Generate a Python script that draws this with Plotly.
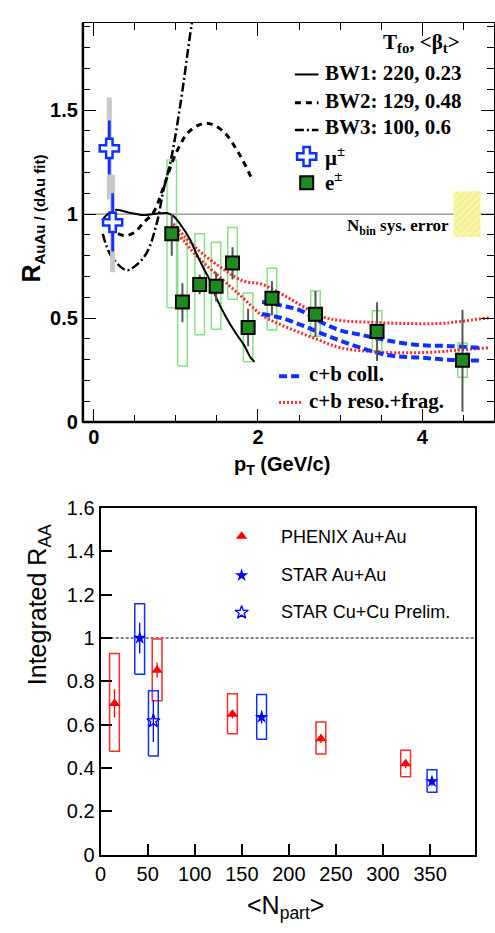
import plotly.graph_objects as go

W, H = 495, 933

# ---------------- Top panel: R_AuAu/(dAu fit) vs pT ----------------
mu_pt = [0.19, 0.23]
mu_r = [1.316, 0.960]
mu_stat_up = [1.45, 1.10]
mu_stat_dn = [1.19, 0.82]
mu_sys_up = [1.56, 1.19]
mu_sys_dn = [1.07, 0.72]

e_pt = [0.95, 1.08, 1.29, 1.49, 1.69, 1.88, 2.17, 2.70, 3.45, 4.49]
e_r = [0.905, 0.577, 0.662, 0.653, 0.765, 0.455, 0.595, 0.518, 0.435, 0.297]
e_stat_up = [1.00, 0.667, 0.71, 0.72, 0.84, 0.545, 0.677, 0.63, 0.576, 0.54]
e_stat_dn = [0.80, 0.48, 0.615, 0.58, 0.685, 0.365, 0.513, 0.41, 0.294, 0.05]
e_sys_up = [1.26, 0.88, 0.905, 0.864, 0.935, 0.62, 0.74, 0.63, 0.535, 0.38]
e_sys_dn = [0.55, 0.27, 0.42, 0.446, 0.59, 0.29, 0.443, 0.413, 0.343, 0.216]
e_box_half = 0.058

bw1_pt = [0.12, 0.25, 0.45, 0.61, 0.73, 0.89, 0.97, 1.05, 1.17, 1.25, 1.35, 1.41, 1.49, 1.61, 1.73, 1.83, 1.91, 1.96]
bw1_r = [0.98, 1.02, 1.005, 0.995, 1.0, 1.005, 0.99, 0.953, 0.88, 0.81, 0.73, 0.685, 0.60, 0.505, 0.427, 0.37, 0.31, 0.29]

bw2_pt = [0.11, 0.20, 0.37, 0.49, 0.61, 0.73, 0.85, 1.01, 1.17, 1.37, 1.57, 1.77, 1.93]
bw2_r = [0.98, 0.93, 0.897, 0.91, 0.96, 1.01, 1.13, 1.30, 1.40, 1.437, 1.40, 1.29, 1.165]

bw3_pt = [0.11, 0.21, 0.40, 0.52, 0.65, 0.77, 0.85, 0.94, 1.06, 1.19, 1.22]
bw3_r = [0.905, 0.80, 0.73, 0.755, 0.817, 0.96, 1.117, 1.26, 1.54, 1.906, 1.97]

coll_pt = [2.05, 2.29, 2.53, 2.77, 3.01, 3.25, 3.61, 3.97, 4.30, 4.69]
coll_hi = [0.577, 0.56, 0.535, 0.48, 0.44, 0.42, 0.39, 0.37, 0.366, 0.357]
coll_lo = [0.52, 0.50, 0.466, 0.427, 0.39, 0.357, 0.32, 0.31, 0.30, 0.296]

frag_pt = [0.97, 1.25, 1.54, 1.81, 2.05, 2.29, 2.53, 2.77, 3.01, 3.41, 3.81, 4.21, 4.45, 4.81]
frag_hi = [0.953, 0.835, 0.746, 0.68, 0.662, 0.615, 0.56, 0.508, 0.488, 0.479, 0.474, 0.474, 0.483, 0.502]
frag_lo = [0.935, 0.80, 0.695, 0.60, 0.513, 0.466, 0.427, 0.39, 0.357, 0.338, 0.333, 0.338, 0.347, 0.357]

nbin_pt = [4.38, 4.71]
nbin_err = 0.11

# ---------------- Bottom panel: integrated R_AA vs Npart ----------------
phx_n = [14.7, 60, 140, 234, 324]
phx_r = [0.698, 0.851, 0.648, 0.535, 0.419]
phx_stat = [0.065, 0.035, 0.02, 0.02, 0.02]
phx_sys_up = [0.928, 0.995, 0.743, 0.612, 0.482]
phx_sys_dn = [0.477, 0.71, 0.558, 0.464, 0.36]

sau_n = [41.5, 171, 352]
sau_r = [1.0, 0.635, 0.338]
sau_stat = [0.07, 0.03, 0.02]
sau_sys_up = [1.158, 0.739, 0.392]
sau_sys_dn = [0.833, 0.532, 0.288]

scu_n = [56]
scu_r = [0.617]
scu_stat = [0.097]
scu_sys_up = [0.757]
scu_sys_dn = [0.455]

npart_box_half = 5.2

top_ytick_vals = [0, 0.5, 1, 1.5]
top_xtick_vals = [0, 2, 4]
bot_ytick_vals = [0, 0.2, 0.4, 0.6, 0.8, 1.0, 1.2, 1.4, 1.6]
bot_xtick_vals = [0, 50, 100, 150, 200, 250, 300, 350]


def box_path(xc, half, lo, hi):
    xs, ys = [], []
    for x, l, h in zip(xc, lo, hi):
        xs += [x - half, x + half, x + half, x - half, x - half, None]
        ys += [l, l, h, h, l, None]
    return xs, ys


def vbar_path(xc, lo, hi):
    xs, ys = [], []
    for x, l, h in zip(xc, lo, hi):
        xs += [x, x, None]
        ys += [l, h, None]
    return xs, ys


SANS = "Liberation Sans, Arial, sans-serif"
SERIF = "Liberation Serif, Times New Roman, serif"
RED_C = "#ff2a2a"
BLUE_C = "#1030ff"
BW2_DASH = "6px,5px"
BW3_DASH = "9px,3px,2px,3px"
COLL_DASH = "8px,4px"
FRAG_DASH = "2px,2px"

fig = go.Figure()

# ---- top panel traces ----
fig.add_trace(go.Scatter(
    x=[nbin_pt[0], nbin_pt[1], nbin_pt[1], nbin_pt[0], nbin_pt[0]],
    y=[1 - nbin_err, 1 - nbin_err, 1 + nbin_err, 1 + nbin_err, 1 - nbin_err],
    mode="lines", line=dict(width=0), fill="toself", fillcolor="#f8f6a0",
    fillpattern=dict(shape="/", fgcolor="#ece868", bgcolor="#f8f6a8", size=5, solidity=0.3),
    xaxis="x", yaxis="y", hoverinfo="skip"))

bx, by = box_path(e_pt, e_box_half, e_sys_dn, e_sys_up)
fig.add_trace(go.Scatter(x=bx, y=by, mode="lines", line=dict(color="#86e086", width=1.5),
                         xaxis="x", yaxis="y", hoverinfo="skip"))

for hi_lo in (frag_hi, frag_lo):
    fig.add_trace(go.Scatter(x=frag_pt, y=hi_lo, mode="lines",
                             line=dict(color=RED_C, width=3, dash=FRAG_DASH, shape="spline"),
                             xaxis="x", yaxis="y"))
for hi_lo in (coll_hi, coll_lo):
    fig.add_trace(go.Scatter(x=coll_pt, y=hi_lo, mode="lines",
                             line=dict(color=BLUE_C, width=4, dash=COLL_DASH, shape="spline"),
                             xaxis="x", yaxis="y"))
fig.add_trace(go.Scatter(x=bw1_pt, y=bw1_r, mode="lines",
                         line=dict(color="black", width=2, shape="spline"), xaxis="x", yaxis="y"))
fig.add_trace(go.Scatter(x=bw2_pt, y=bw2_r, mode="lines",
                         line=dict(color="black", width=3, dash=BW2_DASH, shape="spline"), xaxis="x", yaxis="y"))
fig.add_trace(go.Scatter(x=bw3_pt, y=bw3_r, mode="lines",
                         line=dict(color="black", width=2.5, dash=BW3_DASH, shape="spline"), xaxis="x", yaxis="y"))

sx, sy = vbar_path(mu_pt, mu_sys_dn, mu_sys_up)
fig.add_trace(go.Scatter(x=sx, y=sy, mode="lines", line=dict(color="#c8c8c8", width=5),
                         xaxis="x", yaxis="y"))
sx, sy = vbar_path(mu_pt, mu_stat_dn, mu_stat_up)
fig.add_trace(go.Scatter(x=sx, y=sy, mode="lines", line=dict(color=BLUE_C, width=2.7),
                         xaxis="x", yaxis="y"))
fig.add_trace(go.Scatter(x=mu_pt, y=mu_r, mode="markers",
                         marker=dict(symbol="cross", size=16, color="white",
                                     line=dict(color=BLUE_C, width=2.5)),
                         xaxis="x", yaxis="y"))

sx, sy = vbar_path(e_pt, e_stat_dn, e_stat_up)
fig.add_trace(go.Scatter(x=sx, y=sy, mode="lines", line=dict(color="#555555", width=2),
                         xaxis="x", yaxis="y"))
fig.add_trace(go.Scatter(x=e_pt, y=e_r, mode="markers",
                         marker=dict(symbol="square", size=13, color="#1f8a1f",
                                     line=dict(color="black", width=2)),
                         xaxis="x", yaxis="y"))

# ---- bottom panel traces ----
bx, by = box_path(phx_n, npart_box_half, phx_sys_dn, phx_sys_up)
fig.add_trace(go.Scatter(x=bx, y=by, mode="lines", line=dict(color=RED_C, width=1.5),
                         xaxis="x2", yaxis="y2"))
bx, by = box_path(sau_n + scu_n, npart_box_half, sau_sys_dn + scu_sys_dn, sau_sys_up + scu_sys_up)
fig.add_trace(go.Scatter(x=bx, y=by, mode="lines", line=dict(color=BLUE_C, width=1.5),
                         xaxis="x2", yaxis="y2"))

fig.add_trace(go.Scatter(x=phx_n, y=phx_r, mode="markers",
                         marker=dict(symbol="triangle-up", size=10, color="#ff0000"),
                         error_y=dict(type="data", array=phx_stat, color="#ff0000", thickness=1.3, width=0),
                         xaxis="x2", yaxis="y2"))
fig.add_trace(go.Scatter(x=sau_n, y=sau_r, mode="markers",
                         marker=dict(symbol="star", size=10, color="#0000ff"),
                         error_y=dict(type="data", array=sau_stat, color="#0000ff", thickness=1.3, width=0),
                         xaxis="x2", yaxis="y2"))
fig.add_trace(go.Scatter(x=scu_n, y=scu_r, mode="markers",
                         marker=dict(symbol="star-open", size=10, color="#0000ff", line=dict(width=1.3)),
                         error_y=dict(type="data", array=scu_stat, color="#0000ff", thickness=1.3, width=0),
                         xaxis="x2", yaxis="y2"))

# ---- legend glyphs on a full-figure pixel overlay ----
def leg_line(x0, x1, y, line):
    fig.add_trace(go.Scatter(x=[x0, x1], y=[y, y], mode="lines", line=line,
                             xaxis="x3", yaxis="y3", hoverinfo="skip"))

leg_line(293, 317, 65, dict(color="black", width=2))
leg_line(293, 317, 94, dict(color="black", width=3, dash=BW2_DASH))
leg_line(293, 317, 122, dict(color="black", width=2.5, dash=BW3_DASH))
leg_line(277, 300, 374, dict(color=BLUE_C, width=4, dash=COLL_DASH))
leg_line(277, 300, 401, dict(color=RED_C, width=3, dash=FRAG_DASH))

def leg_marker(x, y, marker):
    fig.add_trace(go.Scatter(x=[x], y=[y], mode="markers", marker=marker,
                             xaxis="x3", yaxis="y3", hoverinfo="skip"))

leg_marker(305, 149, dict(symbol="cross", size=16, color="white", line=dict(color=BLUE_C, width=2.5)))
leg_marker(305, 176, dict(symbol="square", size=13, color="#1f8a1f", line=dict(color="black", width=2)))
leg_marker(239, 538, dict(symbol="triangle-up", size=10, color="#ff0000"))
leg_marker(239, 578, dict(symbol="star", size=10, color="#0000ff"))
leg_marker(239, 616, dict(symbol="star-open", size=10, color="#0000ff", line=dict(width=1.3)))

ann = []

def txt(x, y, s, size, family, bold=False, xanchor="left", angle=0):
    ann.append(dict(x=x, y=y, xref="x3", yref="y3", text=s, showarrow=False,
                    xanchor=xanchor, yanchor="middle", textangle=angle,
                    font=dict(size=size, family=family, color="black",
                              weight="bold" if bold else "normal")))

txt(380, 33, "T<sub>fo</sub>, &lt;β<sub>t</sub>&gt;", 21, SERIF, True)
txt(322, 64, "BW1: 220, 0.23", 21, SERIF, True)
txt(322, 92, "BW2: 129, 0.48", 21, SERIF, True)
txt(322, 119, "BW3: 100, 0.6", 21, SERIF, True)
txt(322, 149, "μ<sup>±</sup>", 21, SERIF, True)
txt(322, 175, "e<sup>±</sup>", 21, SERIF, True)
txt(451, 221, "N<sub>bin</sub> sys. error", 17, SERIF, True, xanchor="right")
txt(305, 372, "c+b coll.", 21, SERIF, True)
txt(305, 399, "c+b reso.+frag.", 21, SERIF, True)

txt(27, 213, "R<sub><span style='font-size:15px'>AuAu / (dAu fit)</span></sub>", 25, SANS, True,
    xanchor="center", angle=-90)
txt(280, 465, "p<sub>T</sub> (GeV/c)", 20, SANS, True, xanchor="center")

txt(277, 539, "PHENIX Au+Au", 18, SANS)
txt(277, 578, "STAR Au+Au", 18, SANS)
txt(277, 616, "STAR Cu+Cu Prelim.", 18, SANS)
txt(33, 608, "Integrated R<sub>AA</sub>", 25, SANS, False, xanchor="center", angle=-90)
txt(284, 918, "&lt;N<sub>part</sub>&gt;", 25, SANS, False, xanchor="center")

top_font = dict(family=SANS, size=20, color="black", weight="bold")
bot_font = dict(family=SANS, size=20, color="black")

fig.update_layout(
    width=W, height=H, margin=dict(l=0, r=0, t=0, b=0),
    paper_bgcolor="white", plot_bgcolor="rgba(0,0,0,0)", showlegend=False,
    xaxis=dict(domain=[78 / W, 1.0], range=[-0.132, 4.874], anchor="y",
               tickmode="array", tickvals=top_xtick_vals,
               ticks="inside", ticklen=13, tickwidth=1.3, tickcolor="black",
               ticklabelstandoff=-3,
               minor=dict(tickmode="linear", tick0=0, dtick=0.5, ticks="inside", ticklen=7,
                          tickwidth=1, tickcolor="black", showgrid=False),
               showline=True, linecolor="black", linewidth=1, mirror="ticks",
               showgrid=False, zeroline=False, tickfont=top_font),
    yaxis=dict(domain=[1 - 421 / H, 1 - 12 / H], range=[0, 1.92], anchor="x",
               tickmode="array", tickvals=top_ytick_vals,
               ticks="inside", ticklen=13, tickwidth=1.3, tickcolor="black",
               minor=dict(tickmode="linear", tick0=0, dtick=0.1, ticks="inside", ticklen=7,
                          tickwidth=1, tickcolor="black", showgrid=False),
               showline=True, linecolor="black", linewidth=1, mirror="ticks",
               showgrid=False, zeroline=False, tickfont=top_font),
    xaxis2=dict(domain=[96 / W, 476 / W], range=[0, 398], anchor="y2",
                tickmode="array", tickvals=bot_xtick_vals,
                ticks="inside", ticklen=11, tickwidth=1.5, tickcolor="black",
                showline=True, linecolor="black", linewidth=2, mirror=True,
                showgrid=False, zeroline=False, tickfont=bot_font),
    yaxis2=dict(domain=[1 - 864 / H, 1 - 509 / H], range=[0, 1.6], anchor="x2",
                tickmode="array", tickvals=bot_ytick_vals,
                ticks="inside", ticklen=11, tickwidth=1.5, tickcolor="black",
                showline=True, linecolor="black", linewidth=2, mirror=True,
                showgrid=False, zeroline=False, tickfont=bot_font),
    xaxis3=dict(domain=[0, 1], range=[0, W], visible=False, anchor="y3", fixedrange=True),
    yaxis3=dict(domain=[0, 1], range=[H, 0], visible=False, anchor="x3", fixedrange=True),
    annotations=ann,
    shapes=[
        dict(type="line", xref="x domain", yref="y", x0=0, x1=1, y0=1, y1=1,
             line=dict(color="#8a8a8a", width=1.2), layer="below"),
        dict(type="line", xref="x domain", yref="y domain", x0=0, x1=0, y0=0, y1=1,
             line=dict(color="black", width=2.5)),
        dict(type="line", xref="x domain", yref="y domain", x0=0, x1=1, y0=0, y1=0,
             line=dict(color="black", width=2.5)),
        dict(type="line", xref="x2 domain", yref="y2", x0=0, x1=1, y0=1, y1=1,
             line=dict(color="black", width=1, dash="3px,2px"), layer="below"),
    ],
)

fig.write_html("out.html", config={"displayModeBar": False},
               post_script="document.body.style.margin='0';document.body.style.overflow='hidden';")
